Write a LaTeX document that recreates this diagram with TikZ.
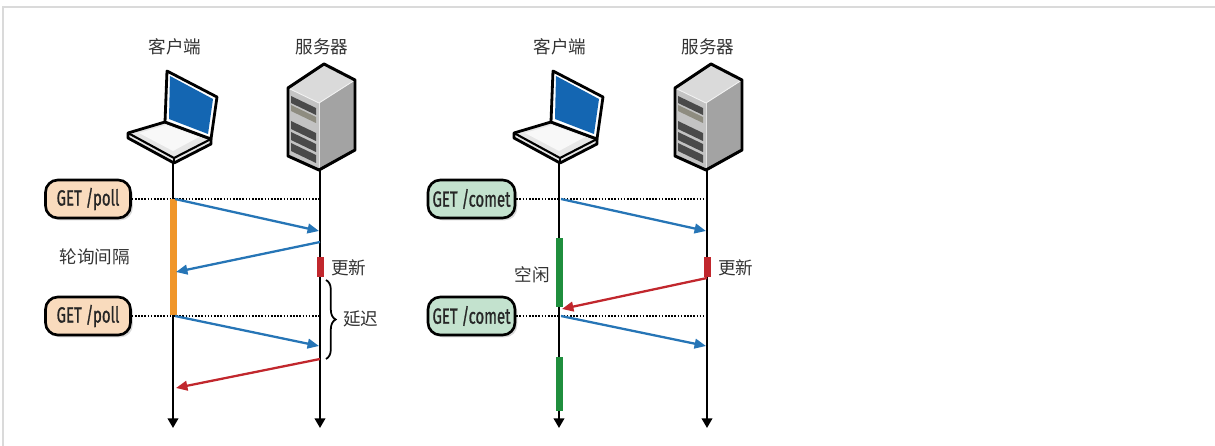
\documentclass[tikz,border=0pt]{standalone}
\usepackage{graphicx}
\usepackage{fontspec}
\setmainfont{Noto Sans CJK SC}
\newfontfamily\getfont{Fira Sans}[FakeBold=1.2]
\usetikzlibrary{arrows.meta,decorations.pathreplacing,shadows}

\definecolor{framegray}{HTML}{DADADA}
\definecolor{labelgray}{HTML}{333333}
\definecolor{pollfill}{HTML}{F9DBBD}
\definecolor{cometfill}{HTML}{C3E2CE}
\definecolor{msgblue}{HTML}{2675B6}
\definecolor{msgred}{HTML}{C1272D}
\definecolor{waitorange}{HTML}{F0962A}
\definecolor{idlegreen}{HTML}{1F8E3D}
\definecolor{updred}{HTML}{C1272D}
\definecolor{screenblue}{HTML}{1466B2}
\definecolor{lapbase}{HTML}{E6E6E6}
\definecolor{srvtop}{HTML}{DADADA}
\definecolor{srvfront}{HTML}{C3C3C3}
\definecolor{srvside}{HTML}{A3A3A3}
\definecolor{slotdark}{HTML}{4A4A4A}
\definecolor{slotlight}{HTML}{8E8C80}

\newcommand{\getlabel}[1]{{\getfont\scalebox{0.68}[1]{#1}}}

\tikzset{
  laptop/.pic={
    % keyboard half
    \filldraw[fill=lapbase, line width=1.6pt, line join=round]
      (-45,133) -- (-8,122) -- (38,139) -- (38,144) -- (1,163) -- (-45,138) -- cycle;
    \fill[white!70!lapbase] (-34,133) -- (-7,125) -- (26,137) -- (0,151) -- cycle;
    \draw[line width=1.2pt, line join=round] (-45,133) -- (1,158) -- (38,139);
    \draw[line width=1.2pt] (1,158) -- (1,163);
    % screen half
    \filldraw[fill=white, line width=1.6pt, line join=round]
      (-8,122) -- (-6,71) -- (44,97) -- (38,139) -- cycle;
    \fill[screenblue] (-4,119) -- (-3,76) -- (40,99) -- (35,134) -- cycle;
  },
  serverbox/.pic={
    \fill[srvfront] (-32,88) -- (-1,103) -- (-1,170) -- (-32,156) -- cycle;
    \fill[srvside] (-1,103) -- (35,80) -- (35,150) -- (-1,170) -- cycle;
    \fill[srvtop] (-32,88) -- (4,64) -- (35,80) -- (-1,103) -- cycle;
    \foreach \t/\h/\c in {96/7/slotdark, 105/6/slotlight, 121/8/slotdark, 132/8/slotdark, 143/8/slotdark}
      \fill[\c] (-29,\t) -- (-4,\t+12) -- (-4,\t+12+\h) -- (-29,\t+\h) -- cycle;
    \draw[line width=0.5pt, white!80!gray] (-1,103) -- (-1,170);
    \draw[line width=0.5pt, white!90!gray] (-32,88) -- (-1,103) -- (35,80);
    \draw[line width=1.7pt, line join=round]
      (-32,88) -- (4,64) -- (35,80) -- (35,150) -- (-1,170) -- (-32,156) -- cycle;
  },
  life/.style={line width=1.2pt, -{Triangle[length=5.5pt,width=6pt]}},
  msg/.style={line width=1.3pt, draw=msgblue, -{Triangle[length=6.5pt,width=5.5pt]}},
  reply/.style={msg, draw=msgred},
  probe/.style={line width=1.7pt, dash pattern=on 0.9pt off 0.9pt},
  reqbox/.style={draw, line width=1.5pt, rounded corners=7pt, inner sep=0pt,
    minimum width=1.7cm, minimum height=0.76cm, text=black!85,
    font=\fontsize{12.5}{14}\selectfont,
    drop shadow={shadow xshift=1.3pt, shadow yshift=-1.3pt, opacity=0.3}},
  lbl/.style={font=\fontsize{10}{12}\selectfont, text=labelgray, inner sep=1pt},
}

\begin{document}
\begin{tikzpicture}[x=0.02cm, y=-0.02cm]
  \path[use as bounding box] (0,0) rectangle (1215,446);
  \draw[framegray, line width=1.1pt] (3,446) -- (3,7) -- (1215,7);

  % ---------------- polling ----------------
  \node[lbl] (cliA) at (175,47) {客户端};
  \node[lbl] (srvA) at (322,47) {服务器};
  \pic at (173,0) {laptop};
  \pic at (320,0) {serverbox};

  \coordinate (cA0) at (173,163);  \coordinate (cAend) at (173,428);
  \coordinate (sA0) at (320,170);  \coordinate (sAend) at (320,428);
  \draw[life] (cA0) -- (cAend);
  \draw[life] (sA0) -- (sAend);

  \node[reqbox, fill=pollfill] (pollA) at (88,199) {\getlabel{GET /poll}};
  \node[reqbox, fill=pollfill] (pollB) at (88,316) {\getlabel{GET /poll}};
  \coordinate (sA1) at (320,199);
  \coordinate (sA3) at (320,316);
  \draw[probe] (pollA.east) -- (sA1);
  \draw[probe] (pollB.east) -- (sA3);

  \fill[waitorange] (169.5,199) rectangle (176.5,315);
  \fill[updred] (316.5,257) rectangle (323.5,277);

  \coordinate (cA1) at (175,199);  \coordinate (sA1r) at (319,231);
  \coordinate (sA2) at (320,242);  \coordinate (cA2) at (176,272);
  \coordinate (cA3) at (175,316);  \coordinate (sA3r) at (319,346);
  \coordinate (sA4) at (320,359);  \coordinate (cA4) at (176,388);
  \draw[msg] (cA1) -- (sA1r);
  \draw[msg] (sA2) -- (cA2);
  \draw[msg] (cA3) -- (sA3r);
  \draw[reply] (sA4) -- (cA4);

  \coordinate (brTop) at (326,280);
  \coordinate (brBot) at (326,359);
  \draw[line width=1pt, decorate, decoration={brace, amplitude=5.5pt}] (brTop) -- (brBot);

  \node[lbl] (intvl) at (95,257) {轮询间隔};
  \node[lbl, anchor=west] (updA) at (329,268) {更新};
  \node[lbl, anchor=west] (delay) at (341,319) {延迟};

  % ---------------- long polling ----------------
  \node[lbl] (cliB) at (560,47) {客户端};
  \node[lbl] (srvB) at (708,47) {服务器};
  \pic at (559,0) {laptop};
  \pic at (707,0) {serverbox};

  \coordinate (cB0) at (559,163);  \coordinate (cBend) at (559,428);
  \coordinate (sB0) at (707,170);  \coordinate (sBend) at (707,428);
  \draw[life] (cB0) -- (cBend);
  \draw[life] (sB0) -- (sBend);

  \node[reqbox, fill=cometfill, minimum width=1.74cm] (cometA) at (471.5,199) {\getlabel{GET /comet}};
  \node[reqbox, fill=cometfill, minimum width=1.74cm] (cometB) at (471.5,316) {\getlabel{GET /comet}};
  \coordinate (sB1) at (707,199);
  \coordinate (sB3) at (707,316);
  \draw[probe] (cometA.east) -- (sB1);
  \draw[probe] (cometB.east) -- (sB3);

  \fill[idlegreen] (555.5,238) rectangle (562.5,307);
  \fill[idlegreen] (555.5,357) rectangle (562.5,411);
  \fill[updred] (703.5,257) rectangle (710.5,277);

  \coordinate (cB1) at (561,199);  \coordinate (sB1r) at (706,231);
  \coordinate (sB2) at (707,278);  \coordinate (cB2) at (562,309);
  \coordinate (cB3) at (561,316);  \coordinate (sB3r) at (706,346);
  \draw[msg] (cB1) -- (sB1r);
  \draw[reply] (sB2) -- (cB2);
  \draw[msg] (cB3) -- (sB3r);

  \node[lbl] (idle) at (532,275) {空闲};
  \node[lbl, anchor=west] (updB) at (716,268) {更新};
\end{tikzpicture}
\end{document}
